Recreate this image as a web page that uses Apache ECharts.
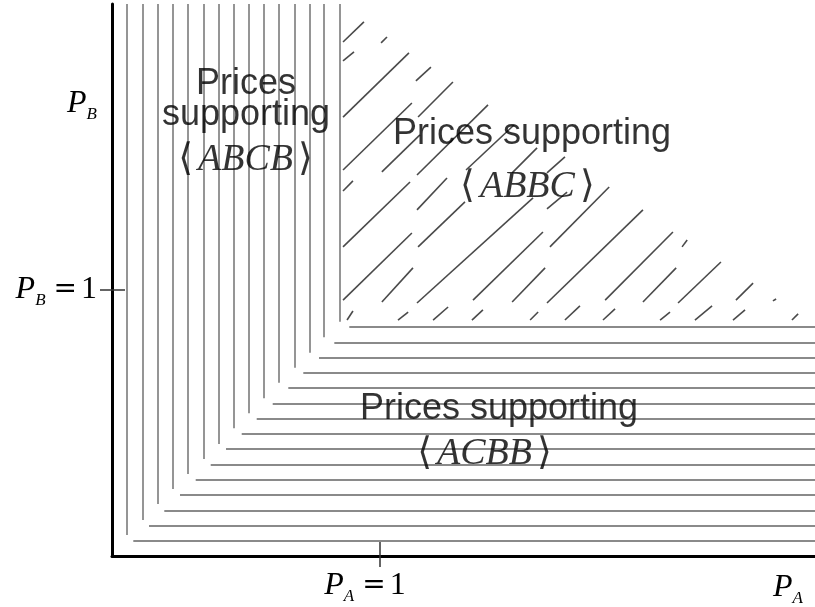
<!DOCTYPE html>
<html>
<head>
<meta charset="utf-8">
<script src="https://cdn.jsdelivr.net/npm/echarts@6/dist/echarts.min.js"></script>
<style>
    html, body { margin: 0; padding: 0; background: #fff; }
    #chart { width: 815px; height: 607px; }
</style>
</head>
<body>
<div id="chart"></div>
<script>
(function () {
    // axis extent (price units, P = 1 at the ticks)
    var xMax = 2.623;
    var yMax = 2.075;
    var tickValues = [1];

    // nested L shapes, outer -> inner
    var lVertX = [0.0549, 0.1131, 0.1690, 0.2265, 0.2825, 0.3407, 0.3966, 0.4526, 0.5101, 0.5646, 0.6231, 0.6802, 0.7362, 0.7910, 0.8481];
    var lVertEndY = [0.0789, 0.1353, 0.1955, 0.2519, 0.3083, 0.3647, 0.4211, 0.4801, 0.5365, 0.5929, 0.6515, 0.7079, 0.7643, 0.8222, 0.8808];
    var lHorizY = [0.0575, 0.1128, 0.1703, 0.2293, 0.2857, 0.3447, 0.4023, 0.4586, 0.5177, 0.5741, 0.6327, 0.6891, 0.7470, 0.8034, 0.8620];
    var lHorizStartX = [0.0795, 0.1381, 0.1951, 0.2537, 0.3123, 0.3683, 0.4254, 0.4840, 0.5399, 0.5996, 0.6578, 0.7138, 0.7724, 0.8295, 0.8854];

    // hatch dashes in the upper triangle: [x1, y1, x2, y2]
    var hatchSegments = [
        [0.862, 1.932, 0.940, 2.008],
        [0.862, 1.861, 0.903, 1.895],
        [1.004, 1.929, 1.026, 1.951],
        [0.862, 1.650, 1.108, 1.891],
        [1.134, 1.786, 1.190, 1.838],
        [0.862, 1.451, 1.119, 1.703],
        [0.862, 1.372, 0.899, 1.410],
        [1.142, 1.650, 1.272, 1.782],
        [1.007, 1.444, 1.149, 1.583],
        [0.862, 1.162, 1.112, 1.406],
        [1.138, 1.432, 1.403, 1.696],
        [1.138, 1.301, 1.250, 1.421],
        [0.862, 0.962, 1.119, 1.214],
        [1.321, 1.451, 1.500, 1.620],
        [1.142, 1.162, 1.317, 1.331],
        [0.877, 0.887, 0.899, 0.921],
        [1.007, 0.955, 1.123, 1.083],
        [1.493, 1.440, 1.586, 1.534],
        [1.067, 0.887, 1.105, 0.917],
        [1.138, 0.951, 1.571, 1.346],
        [1.623, 1.440, 1.690, 1.500],
        [1.198, 0.887, 1.254, 0.936],
        [1.623, 1.305, 1.698, 1.368],
        [1.347, 0.962, 1.608, 1.218],
        [1.343, 0.887, 1.384, 0.925],
        [1.493, 0.955, 1.616, 1.083],
        [1.634, 1.162, 1.855, 1.387],
        [1.560, 0.887, 1.590, 0.917],
        [1.623, 0.951, 1.981, 1.301],
        [1.690, 0.887, 1.746, 0.940],
        [1.832, 0.887, 1.877, 0.929],
        [1.840, 0.962, 2.093, 1.218],
        [2.127, 1.162, 2.146, 1.188],
        [1.981, 0.955, 2.105, 1.083],
        [2.045, 0.887, 2.082, 0.917],
        [2.112, 0.951, 2.272, 1.105],
        [2.175, 0.887, 2.239, 0.940],
        [2.328, 0.962, 2.392, 1.026],
        [2.317, 0.887, 2.362, 0.925],
        [2.466, 0.959, 2.478, 0.966],
        [2.537, 0.887, 2.560, 0.910]
    ];

    // region captions
    var labelText = ['Prices', 'supporting', '⟨ABCB⟩', 'Prices supporting', '⟨ABBC⟩', 'Prices supporting', '⟨ACBB⟩'];
    var labelX = [0.500, 0.500, 0.498, 1.567, 1.550, 1.444, 1.390];
    var labelY = [1.7726, 1.656, 1.488, 1.5846, 1.3865, 0.5508, 0.3827];

    var mathRich = {
        p: { fontFamily: 'Liberation Serif', fontStyle: 'italic', fontSize: 32, color: '#000' },
        s: { fontFamily: 'Liberation Serif', fontStyle: 'italic', fontSize: 17, color: '#000', padding: [22, 0, 0, 0] },
        e: { fontFamily: 'DejaVu Serif', fontSize: 28, color: '#000', padding: [0, 4, 0, 8] },
        n: { fontFamily: 'Liberation Serif', fontSize: 32, color: '#000' }
    };

    function initial() {
        var chartDom = document.getElementById('chart');
        var myChart = echarts.init(chartDom, null, { renderer: 'canvas' });

        var lShapes = [];
        for (var i = 0; i < lVertX.length; i++) {
            lShapes.push({ coords: [[lVertX[i], yMax], [lVertX[i], lVertEndY[i]]] });
            lShapes.push({ coords: [[lHorizStartX[i], lHorizY[i]], [xMax, lHorizY[i]]] });
        }

        var hatch = hatchSegments.map(function (s) {
            return { coords: [[s[0], s[1]], [s[2], s[3]]] };
        });

        var captions = labelText.map(function (t, i) {
            return { value: [labelX[i], labelY[i]], text: t };
        });

        var option = {
            animation: false,
            backgroundColor: '#fff',
            grid: { left: 112, right: 0, top: 4, bottom: 51, containLabel: false },
            xAxis: [
                {
                    type: 'value', min: 0, max: xMax,
                    axisLine: { show: true, onZero: false, lineStyle: { color: '#000', width: 3 } },
                    axisTick: { show: false },
                    splitLine: { show: false },
                    axisLabel: {
                        customValues: tickValues,
                        margin: 10,
                        padding: [0, 30, 0, 0],
                        formatter: function () { return '{p|P}{s|A}{e|=}{n|1}'; },
                        rich: mathRich
                    },
                    name: '{p|P}{s|A}',
                    nameLocation: 'end',
                    nameGap: -42,
                    nameTextStyle: { align: 'left', verticalAlign: 'top', padding: [12, 0, 0, 0], rich: mathRich }
                },
                {
                    type: 'value', min: 0, max: xMax, position: 'bottom', offset: -14,
                    axisLine: { show: false },
                    axisTick: { show: true, customValues: tickValues, length: 25, lineStyle: { color: '#333', width: 1.5 } },
                    axisLabel: { show: false },
                    splitLine: { show: false }
                }
            ],
            yAxis: [
                {
                    type: 'value', min: 0, max: yMax,
                    axisLine: { show: true, onZero: false, lineStyle: { color: '#000', width: 3 } },
                    axisTick: { show: false },
                    splitLine: { show: false },
                    axisLabel: {
                        customValues: tickValues,
                        margin: 15,
                        formatter: function () { return '{p|P}{s|B}{e|=}{n|1}'; },
                        rich: mathRich
                    },
                    name: '{p|P}{s|B}',
                    nameLocation: 'end',
                    nameGap: -100,
                    nameTextStyle: { align: 'right', verticalAlign: 'middle', padding: [0, 15, 0, 0], rich: mathRich }
                },
                {
                    type: 'value', min: 0, max: yMax, position: 'left', offset: -13,
                    axisLine: { show: false },
                    axisTick: { show: true, customValues: tickValues, length: 25, lineStyle: { color: '#333', width: 1.5 } },
                    axisLabel: { show: false },
                    splitLine: { show: false }
                }
            ],
            series: [
                {
                    name: 'L shapes',
                    type: 'lines',
                    coordinateSystem: 'cartesian2d',
                    silent: true,
                    lineStyle: { color: '#8a8a8a', width: 1.8, opacity: 1, curveness: 0 },
                    data: lShapes
                },
                {
                    name: 'Hatch',
                    type: 'lines',
                    coordinateSystem: 'cartesian2d',
                    silent: true,
                    lineStyle: { color: '#4a4a4a', width: 1.6, opacity: 1, curveness: 0 },
                    data: hatch
                },
                {
                    name: 'Captions',
                    type: 'scatter',
                    silent: true,
                    symbolSize: 1,
                    itemStyle: { color: 'rgba(0,0,0,0)' },
                    z: 10,
                    label: {
                        show: true,
                        position: 'inside',
                        align: 'center',
                        verticalAlign: 'middle',
                        color: '#000',
                        textBorderWidth: 0,
                        formatter: function (p) {
                            var t = p.data.text;
                            if (t.charAt(0) === '⟨') {
                                return '{b|⟨}{m|' + t.slice(1, -1) + '}{b|⟩}';
                            }
                            return '{t|' + t + '}';
                        },
                        rich: {
                            t: { fontFamily: 'Liberation Sans', fontSize: 36, color: '#000', textBorderWidth: 0 },
                            m: { fontFamily: 'Liberation Serif', fontStyle: 'italic', fontSize: 38, color: '#000', textBorderWidth: 0 },
                            b: { fontFamily: 'DejaVu Sans', fontSize: 38, color: '#000', textBorderWidth: 0, padding: [0, 5, 0, 5] }
                        }
                    },
                    data: captions
                }
            ]
        };

        option && myChart.setOption(option);
    }

    initial();
})();
</script>
</body>
</html>
